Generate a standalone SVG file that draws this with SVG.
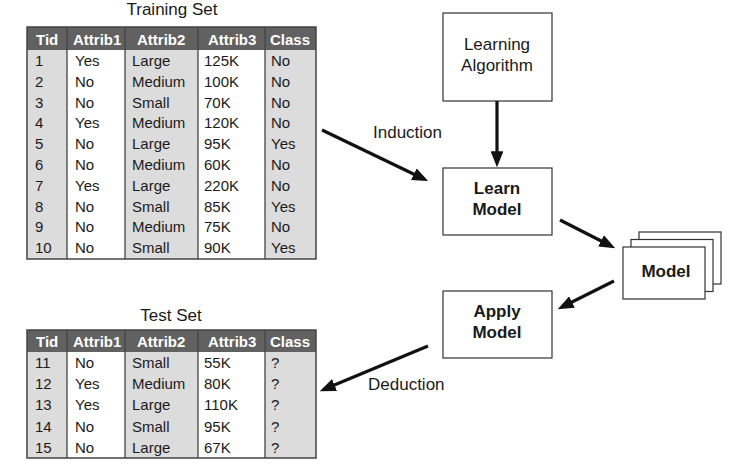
<svg xmlns="http://www.w3.org/2000/svg" width="736" height="475" viewBox="0 0 736 475">
<defs>
<style>
text{font-family:"Liberation Sans",Arial,sans-serif;fill:#1a1a1a}
.t{font-size:15px}
.h{font-size:15px;font-weight:bold;fill:#fff}
.lbl{font-size:17px}
.b{font-size:17px;font-weight:bold;text-anchor:middle}
.n{font-size:17px;text-anchor:middle}
.box{fill:#fff;stroke:#333;stroke-width:1.2}
.hdr{fill:#616161}
.g{fill:#dcdcdc}
.w{fill:#fff}
.sep{stroke:#444;stroke-width:1.3}
.frame{fill:none;stroke:#444;stroke-width:1.5}
.arr{stroke:#111;stroke-width:3.2;fill:none;marker-end:url(#ah)}
</style>
<marker id="ah" viewBox="0 0 10 8" refX="7" refY="4" markerWidth="5" markerHeight="4" orient="auto" markerUnits="strokeWidth">
<path d="M0,0 L10,4 L0,8 z" fill="#111"/>
</marker>
</defs>

<g id="training-set">
<text class="lbl" x="172" y="15" text-anchor="middle">Training Set</text>
<rect class="g" x="27" y="27" width="40" height="232"/>
<rect class="w" x="67" y="27" width="58" height="232"/>
<rect class="g" x="125" y="27" width="73" height="232"/>
<rect class="w" x="198" y="27" width="67" height="232"/>
<rect class="g" x="265" y="27" width="51" height="232"/>
<rect class="hdr" x="27" y="27" width="289" height="23"/>
<line class="sep" x1="67" y1="27" x2="67" y2="259"/>
<line class="sep" x1="125" y1="27" x2="125" y2="259"/>
<line class="sep" x1="198" y1="27" x2="198" y2="259"/>
<line class="sep" x1="265" y1="27" x2="265" y2="259"/>
<rect class="frame" x="27" y="27" width="289" height="232"/>
<text class="h" x="36" y="45">Tid</text>
<text class="h" x="73" y="45">Attrib1</text>
<text class="h" x="137" y="45">Attrib2</text>
<text class="h" x="208" y="45">Attrib3</text>
<text class="h" x="270" y="45">Class</text>
<g class="t">
<text class="t" x="35" y="66">1</text><text class="t" x="75" y="66">Yes</text><text class="t" x="132" y="66">Large</text><text class="t" x="204" y="66">125K</text><text class="t" x="271" y="66">No</text>
<text class="t" x="35" y="86.8">2</text><text class="t" x="75" y="86.8">No</text><text class="t" x="132" y="86.8">Medium</text><text class="t" x="204" y="86.8">100K</text><text class="t" x="271" y="86.8">No</text>
<text class="t" x="35" y="107.6">3</text><text class="t" x="75" y="107.6">No</text><text class="t" x="132" y="107.6">Small</text><text class="t" x="204" y="107.6">70K</text><text class="t" x="271" y="107.6">No</text>
<text class="t" x="35" y="128.4">4</text><text class="t" x="75" y="128.4">Yes</text><text class="t" x="132" y="128.4">Medium</text><text class="t" x="204" y="128.4">120K</text><text class="t" x="271" y="128.4">No</text>
<text class="t" x="35" y="149.2">5</text><text class="t" x="75" y="149.2">No</text><text class="t" x="132" y="149.2">Large</text><text class="t" x="204" y="149.2">95K</text><text class="t" x="271" y="149.2">Yes</text>
<text class="t" x="35" y="170">6</text><text class="t" x="75" y="170">No</text><text class="t" x="132" y="170">Medium</text><text class="t" x="204" y="170">60K</text><text class="t" x="271" y="170">No</text>
<text class="t" x="35" y="190.8">7</text><text class="t" x="75" y="190.8">Yes</text><text class="t" x="132" y="190.8">Large</text><text class="t" x="204" y="190.8">220K</text><text class="t" x="271" y="190.8">No</text>
<text class="t" x="35" y="211.6">8</text><text class="t" x="75" y="211.6">No</text><text class="t" x="132" y="211.6">Small</text><text class="t" x="204" y="211.6">85K</text><text class="t" x="271" y="211.6">Yes</text>
<text class="t" x="35" y="232.4">9</text><text class="t" x="75" y="232.4">No</text><text class="t" x="132" y="232.4">Medium</text><text class="t" x="204" y="232.4">75K</text><text class="t" x="271" y="232.4">No</text>
<text class="t" x="35" y="253.2">10</text><text class="t" x="75" y="253.2">No</text><text class="t" x="132" y="253.2">Small</text><text class="t" x="204" y="253.2">90K</text><text class="t" x="271" y="253.2">Yes</text>
</g>
</g>

<g id="test-set">
<text class="lbl" x="171" y="321" text-anchor="middle">Test Set</text>
<rect class="g" x="27" y="330" width="40" height="128"/>
<rect class="w" x="67" y="330" width="58" height="128"/>
<rect class="g" x="125" y="330" width="73" height="128"/>
<rect class="w" x="198" y="330" width="67" height="128"/>
<rect class="g" x="265" y="330" width="51" height="128"/>
<rect class="hdr" x="27" y="330" width="289" height="22"/>
<line class="sep" x1="67" y1="330" x2="67" y2="458"/>
<line class="sep" x1="125" y1="330" x2="125" y2="458"/>
<line class="sep" x1="198" y1="330" x2="198" y2="458"/>
<line class="sep" x1="265" y1="330" x2="265" y2="458"/>
<rect class="frame" x="27" y="330" width="289" height="128"/>
<text class="h" x="36" y="347">Tid</text>
<text class="h" x="73" y="347">Attrib1</text>
<text class="h" x="137" y="347">Attrib2</text>
<text class="h" x="208" y="347">Attrib3</text>
<text class="h" x="270" y="347">Class</text>
<text class="t" x="35" y="368">11</text><text class="t" x="75" y="368">No</text><text class="t" x="132" y="368">Small</text><text class="t" x="204" y="368">55K</text><text class="t" x="271" y="368">?</text>
<text class="t" x="35" y="389.2">12</text><text class="t" x="75" y="389.2">Yes</text><text class="t" x="132" y="389.2">Medium</text><text class="t" x="204" y="389.2">80K</text><text class="t" x="271" y="389.2">?</text>
<text class="t" x="35" y="410.4">13</text><text class="t" x="75" y="410.4">Yes</text><text class="t" x="132" y="410.4">Large</text><text class="t" x="204" y="410.4">110K</text><text class="t" x="271" y="410.4">?</text>
<text class="t" x="35" y="431.6">14</text><text class="t" x="75" y="431.6">No</text><text class="t" x="132" y="431.6">Small</text><text class="t" x="204" y="431.6">95K</text><text class="t" x="271" y="431.6">?</text>
<text class="t" x="35" y="452.8">15</text><text class="t" x="75" y="452.8">No</text><text class="t" x="132" y="452.8">Large</text><text class="t" x="204" y="452.8">67K</text><text class="t" x="271" y="452.8">?</text>
</g>

<g id="learning-algorithm">
<rect class="box" x="443" y="13" width="109" height="88"/>
<text class="n" x="497" y="50">Learning</text>
<text class="n" x="497" y="71">Algorithm</text>
</g>

<g id="learn-model">
<rect class="box" x="443" y="168" width="109" height="67"/>
<text class="b" x="497" y="194">Learn</text>
<text class="b" x="497" y="215">Model</text>
</g>

<g id="model">
<rect class="box" x="639" y="232" width="82" height="52"/>
<rect class="box" x="631" y="239.5" width="82" height="52"/>
<rect class="box" x="623" y="247" width="82" height="52"/>
<text class="b" x="666" y="277">Model</text>
</g>

<g id="apply-model">
<rect class="box" x="443" y="291" width="109" height="67"/>
<text class="b" x="497" y="317">Apply</text>
<text class="b" x="497" y="338">Model</text>
</g>

<g id="connectors">
<line class="arr" x1="322" y1="130" x2="423.9" y2="179"/>
<line class="arr" x1="497" y1="101" x2="497" y2="162.5"/>
<line class="arr" x1="560" y1="220" x2="611" y2="246"/>
<line class="arr" x1="614" y1="281" x2="562" y2="307"/>
<line class="arr" x1="428" y1="346" x2="324.2" y2="389.3"/>
<text class="lbl" x="373" y="138">Induction</text>
<text class="lbl" x="368" y="390">Deduction</text>
</g>
</svg>
